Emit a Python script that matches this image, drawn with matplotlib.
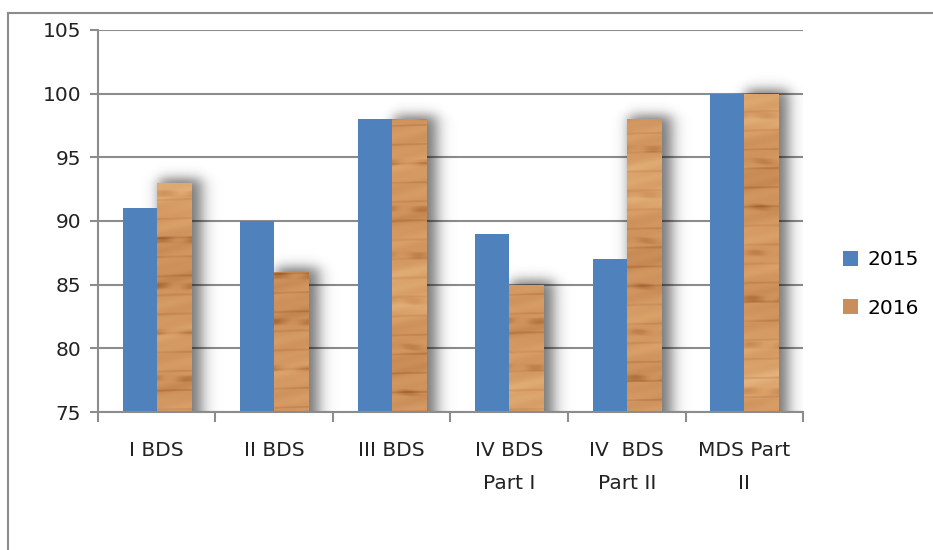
import matplotlib
matplotlib.use("Agg")
import matplotlib.pyplot as plt
import numpy as np
from matplotlib.patches import Patch
from matplotlib.colors import LinearSegmentedColormap

categories = ["I BDS", "II BDS", "III BDS", "IV BDS\nPart I", "IV  BDS\nPart II", "MDS Part\nII"]
series_names = ["2015", "2016"]
values_2015 = [91, 90, 98, 89, 87, 100]
values_2016 = [93, 86, 98, 85, 98, 100]

blue = "#4F81BD"
grid_col = "#8C8C8C"
wood = LinearSegmentedColormap.from_list("wood", ["#8A5428", "#B3733E", "#CC8F5A", "#D9A068", "#E9BC8A"])

fig = plt.figure(figsize=(9.33, 5.5), dpi=100)
ax = fig.add_axes([0.105, 0.2509, 0.7557, 0.6946])

# outer chart border (left and top only visible)
fig.add_artist(plt.Line2D([8/933, 8/933], [0, 1 - 13/550], transform=fig.transFigure, color=grid_col, lw=1.5))
fig.add_artist(plt.Line2D([8/933, 1], [1 - 13/550, 1 - 13/550], transform=fig.transFigure, color=grid_col, lw=1.5))

x = np.arange(len(categories))
w = 0.29
ymin = 75
ax.set_xlim(-0.5, len(categories) - 0.5)
ax.set_ylim(75, 105)

bars1 = ax.bar(x - w/2, np.array(values_2015) - ymin, w, bottom=ymin, color=blue, zorder=3)
bars2 = ax.bar(x + w/2, np.array(values_2016) - ymin, w, bottom=ymin, color="#D4A06A", zorder=3)

px_x = 1 / 117.5   # data units per pixel
px_y = 30 / 382


def soft(t, s):
    return 0.5 * (1 + np.tanh(t / s))


# soft shadow behind the wood bars
for b in bars2:
    x0, x1 = b.get_x(), b.get_x() + b.get_width()
    top = b.get_y() + b.get_height()
    ex = (x0 - 30 * px_x, x1 + 50 * px_x, ymin, min(top + 35 * px_y, 105))
    gx = np.linspace(ex[0], ex[1], 160)[None, :]
    gy = np.linspace(ex[3], ex[2], 300)[:, None]
    sx0, sx1, stop = x0 + 2 * px_x, x1 + 10 * px_x, top + 4 * px_y
    a = (soft(gx - sx0, 8 * px_x) * soft(sx1 - gx, 9 * px_x) * soft(stop - gy, 7 * px_y))
    rgba = np.zeros(a.shape + (4,))
    rgba[..., 3] = 0.55 * a
    ax.imshow(rgba, extent=ex, aspect="auto", interpolation="bilinear", zorder=2)

# wood grain texture clipped to each 2016 bar
for i, b in enumerate(bars2):
    x0, x1 = b.get_x(), b.get_x() + b.get_width()
    top = b.get_y() + b.get_height()
    n = int((top - ymin) / px_y)
    r = np.arange(n)[:, None] + 53 * i
    c = np.arange(34)[None, :]
    g = (0.6 + 0.09 * np.sin(r * 0.047 + 0.7) + 0.06 * np.sin(r * 0.173 + c * 0.04)
         + 0.04 * np.sin(r * 0.41 + 1.3 + c * 0.1))
    streak = 0.6 + 0.4 * np.sin(c * 0.19 + r * 0.013)
    g -= 0.28 * streak * np.exp(-((np.sin(r * 0.137 + 0.05 * np.sin(c * 0.2)) - 1) ** 2) / 0.01)
    g -= 0.18 * np.exp(-((np.sin(r * 0.331 + 2.1 + 0.3 * c / 34) - 1) ** 2) / 0.004)
    g += 0.13 * soft(np.sin(r * 0.023 + 2.0) - 0.55, 0.1)
    g = np.clip(g, 0, 1)
    im = ax.imshow(g, cmap=wood, vmin=0, vmax=1, extent=(x0, x1, ymin, top),
                   aspect="auto", interpolation="bilinear", zorder=4)
    im.set_clip_path(b)

ax.set_yticks(np.arange(75, 106, 5))
ax.yaxis.grid(True, color=grid_col, lw=1.5, zorder=0)
ax.set_axisbelow(True)

ax.set_xticks(x)
ax.set_xticklabels(categories, linespacing=1.95, va="top")
ax.set_xticks(np.arange(-0.5, len(categories)), minor=True)
ax.tick_params(axis="x", which="major", length=0, pad=21, labelsize=14.5, colors="#222222")
ax.tick_params(axis="x", which="minor", length=7, width=1.5, color=grid_col)
ax.tick_params(axis="y", length=6, width=1.5, color=grid_col, labelsize=14.5, labelcolor="#222222", pad=6)

for s in ["top", "right"]:
    ax.spines[s].set_visible(False)
for s in ["left", "bottom"]:
    ax.spines[s].set_color(grid_col)
    ax.spines[s].set_linewidth(1.5)
ax.spines["bottom"].set_zorder(5)

handles = [Patch(facecolor=blue), Patch(facecolor="#C98F5B")]
fig.legend(handles, series_names, loc="center left", bbox_to_anchor=(0.884, 0.4836),
           frameon=False, fontsize=14.5, handlelength=0.75, handleheight=0.75,
           handletextpad=0.45, labelspacing=1.45)

fig.savefig("out.png", dpi=100)
